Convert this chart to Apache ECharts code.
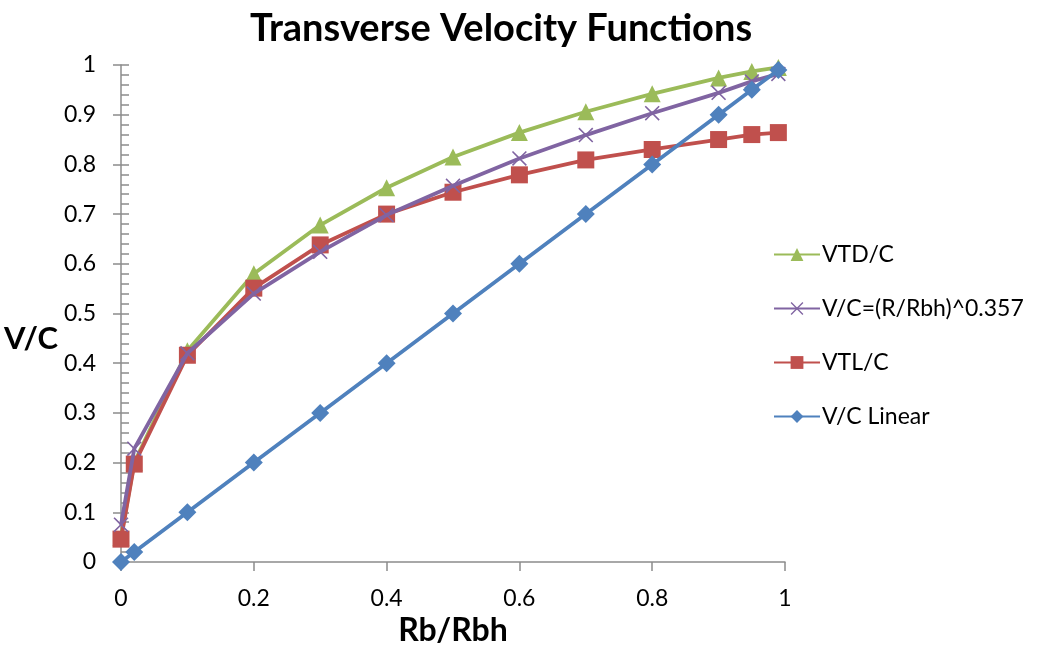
<!DOCTYPE html>
<html><head><meta charset="utf-8">
<script src="https://cdn.jsdelivr.net/npm/echarts@6/dist/echarts.min.js"></script>
<style>html,body{margin:0;padding:0;background:#fff}#c{width:1037px;height:645px}</style>
</head><body><div id="c"></div>
<script>
const xValues = [0, 0.02, 0.1, 0.2, 0.3, 0.4, 0.5, 0.6, 0.7, 0.8, 0.9, 0.95, 0.99];
const vtd = [0.05, 0.2, 0.425, 0.58, 0.678, 0.753, 0.815, 0.864, 0.906, 0.942, 0.974, 0.987, 0.995];
const power = [0.075, 0.228, 0.42, 0.54, 0.624, 0.698, 0.757, 0.812, 0.859, 0.903, 0.944, 0.967, 0.982];
const vtl = [0.046, 0.197, 0.416, 0.551, 0.638, 0.700, 0.744, 0.779, 0.809, 0.830, 0.850, 0.860, 0.864];
const linear = [0, 0.02, 0.1, 0.2, 0.3, 0.4, 0.5, 0.6, 0.7, 0.8, 0.9, 0.95, 0.99];
const seriesNames = ['VTD/C', 'V/C=(R/Rbh)^0.357', 'VTL/C', 'V/C Linear'];

const pair = (ys) => xValues.map((x, i) => [x, ys[i]]);
const xPath = 'path://M0,1.5 L1.5,0 L10,8.5 L18.5,0 L20,1.5 L11.5,10 L20,18.5 L18.5,20 L10,11.5 L1.5,20 L0,18.5 L8.5,10 Z';
const font = 'Lato, "Open Sans", sans-serif';

const chart = echarts.init(document.getElementById('c'));
chart.setOption({
  animation: false,
  title: {
    text: 'Transverse Velocity Functions',
    left: 496, top: 5, textAlign: 'center',
    textStyle: { fontFamily: font, fontWeight: 'bold', fontSize: 38, color: '#000' }
  },
  legend: {
    orient: 'vertical', left: 768, top: 238, itemGap: 31,
    itemWidth: 46, itemHeight: 16,
    data: seriesNames,
    textStyle: { fontFamily: font, fontSize: 23, color: '#000', padding: [0,0,0,-3] }
  },
  grid: { left: 121, right: 252, top: 65, bottom: 83, outerBoundsMode: 'none', containLabel: false },
  xAxis: {
    type: 'value', min: 0, max: 1, interval: 0.2,
    name: 'Rb/Rbh', nameLocation: 'middle', nameGap: 48,
    nameTextStyle: { fontFamily: font, fontWeight: 'bold', fontSize: 32, color: '#000' },
    axisLine: { lineStyle: { color: '#8c8c8c', width: 1.5 } },
    axisTick: { show: true, length: 9, lineStyle: { color: '#8c8c8c', width: 1.5 } },
    axisLabel: { fontFamily: font, fontSize: 23, color: '#000', margin: 25 },
    splitLine: { show: false }
  },
  yAxis: [{
    type: 'value', min: 0, max: 1, interval: 0.1,
    name: 'V/C', nameLocation: 'middle', nameGap: 56, nameRotate: 0,
    nameTextStyle: { fontFamily: font, fontWeight: 'bold', fontSize: 31, color: '#000', verticalAlign: 'top', padding: [10, 0, 0, 0] },
    axisLine: { lineStyle: { color: '#8c8c8c', width: 1.5 } },
    axisTick: { show: true, inside: true, length: 8, lineStyle: { color: '#8c8c8c', width: 1.5 } },
    minorTick: { show: true, splitNumber: 5, length: 8, lineStyle: { color: '#8c8c8c', width: 1.5 } },
    axisLabel: { fontFamily: font, fontSize: 23, color: '#000', margin: 25 },
    splitLine: { show: false }
  }, {
    type: 'value', min: 0, max: 1, interval: 0.1, position: 'left', offset: 0,
    axisLine: { show: false },
    axisTick: { show: true, inside: false, length: 8, lineStyle: { color: '#8c8c8c', width: 1.5 } },
    axisLabel: { show: false },
    splitLine: { show: false }
  }],
  series: [
    { name: 'VTL/C', type: 'line', data: pair(vtl), symbol: 'rect', symbolSize: 17,
      lineStyle: { color: '#C0504D', width: 3.8 }, itemStyle: { color: '#C0504D' }, z: 2 },
    { name: 'V/C=(R/Rbh)^0.357', type: 'line', data: pair(power), symbol: xPath, symbolSize: 15,
      lineStyle: { color: '#8064A2', width: 3.8 }, itemStyle: { color: '#8064A2' }, z: 3 },
    { name: 'VTD/C', type: 'line', data: pair(vtd), symbol: 'triangle', symbolSize: 17,
      lineStyle: { color: '#9BBB59', width: 3.8 }, itemStyle: { color: '#9BBB59' }, z: 1 },
    { name: 'V/C Linear', type: 'line', data: pair(linear), symbol: 'diamond', symbolSize: 18,
      lineStyle: { color: '#4F81BD', width: 3.8 }, itemStyle: { color: '#4F81BD' }, z: 4 }
  ]
});
</script></body></html>
